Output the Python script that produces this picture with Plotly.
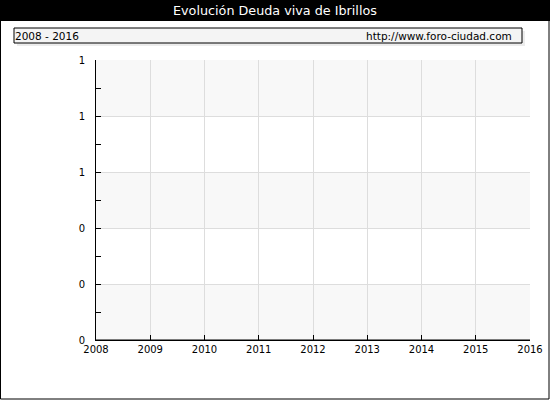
import plotly.graph_objects as go

# datos
years = [2008, 2009, 2010, 2011, 2012, 2013, 2014, 2015, 2016]
deuda = [0, 0, 0, 0, 0, 0, 0, 0, 0]
title_text = "Evolución Deuda viva de Ibrillos"
period_text = "2008 - 2016"
source_text = "http://www.foro-ciudad.com"

W, H = 550, 400
L, R, T, B = 96, 20, 60, 60
pw, ph = W - L - R, H - T - B


def px(x):
    return (x - L) / pw


def py(y):
    return (H - B - y) / ph


font = "DejaVu Sans"

fig = go.Figure()
fig.add_trace(go.Scatter(x=years, y=deuda, mode="lines",
                         line=dict(color="black", width=1),
                         hoverinfo="x+y", showlegend=False))

shapes = []
# bandas alternas
for y0 in [0, 0.4, 0.8]:
    shapes.append(dict(type="rect", xref="x domain", yref="y", x0=0, x1=1,
                       y0=y0, y1=y0 + 0.2, fillcolor="#f8f8f8",
                       line=dict(width=0), layer="below"))
# barra del titulo
shapes.append(dict(type="rect", xref="paper", yref="paper",
                   x0=px(0), x1=px(W), y0=py(21), y1=py(0),
                   fillcolor="black", line=dict(width=0)))
# caja con sombra
shapes.append(dict(type="rect", xref="paper", yref="paper",
                   x0=px(17), x1=px(525), y0=py(46), y1=py(31),
                   fillcolor="#ececec", line=dict(width=0)))
shapes.append(dict(type="rect", xref="paper", yref="paper",
                   x0=px(14), x1=px(522), y0=py(43), y1=py(28),
                   fillcolor="#f4f4f4", line=dict(color="black", width=1)))
# borde exterior
shapes.append(dict(type="rect", xref="paper", yref="paper",
                   x0=px(0.5), x1=px(W - 1), y0=py(H - 1), y1=py(0.5),
                   fillcolor="rgba(0,0,0,0)", line=dict(color="black", width=1)))

annotations = [
    dict(text=title_text, xref="paper", yref="paper", x=0.5 * (px(0) + px(W)),
         y=py(11), showarrow=False, font=dict(family=font, size=12.75, color="white"),
         xanchor="center", yanchor="middle"),
    dict(text=period_text, xref="paper", yref="paper", x=px(13), y=py(35.5),
         showarrow=False, font=dict(family=font, size=10.5, color="black"),
         xanchor="left", yanchor="middle"),
    dict(text=source_text, xref="paper", yref="paper", x=px(514), y=py(35.5),
         showarrow=False, font=dict(family=font, size=10.5, color="black"),
         xanchor="right", yanchor="middle"),
]

fig.update_layout(
    width=W, height=H,
    margin=dict(l=L, r=R, t=T, b=B),
    paper_bgcolor="white", plot_bgcolor="white",
    shapes=shapes, annotations=annotations,
    showlegend=False,
    xaxis=dict(range=[2008, 2016], dtick=1, tick0=2008, ticks="inside", ticklen=5,
               tickcolor="black", showline=True, linecolor="black", linewidth=1,
               showgrid=True, gridcolor="#dddddd", zeroline=False, automargin=False,
               tickfont=dict(family=font, size=10, color="black"), fixedrange=True),
    yaxis=dict(range=[0, 1], dtick=0.2, tick0=0, tickformat=".0f", ticks="inside",
               ticklen=5, tickcolor="black", showline=True, linecolor="black",
               linewidth=1, showgrid=True, gridcolor="#dddddd", zeroline=False,
               ticklabelstandoff=8, automargin=False,
               minor=dict(dtick=0.1, ticks="inside", ticklen=5, tickcolor="black",
                          showgrid=False),
               tickfont=dict(family=font, size=10, color="black"), fixedrange=True),
)

# quitar el margen del body para que la figura ocupe la ventana entera
fig.write_html("out.html", config={"displayModeBar": False},
               post_script="document.body.style.margin='0';")
